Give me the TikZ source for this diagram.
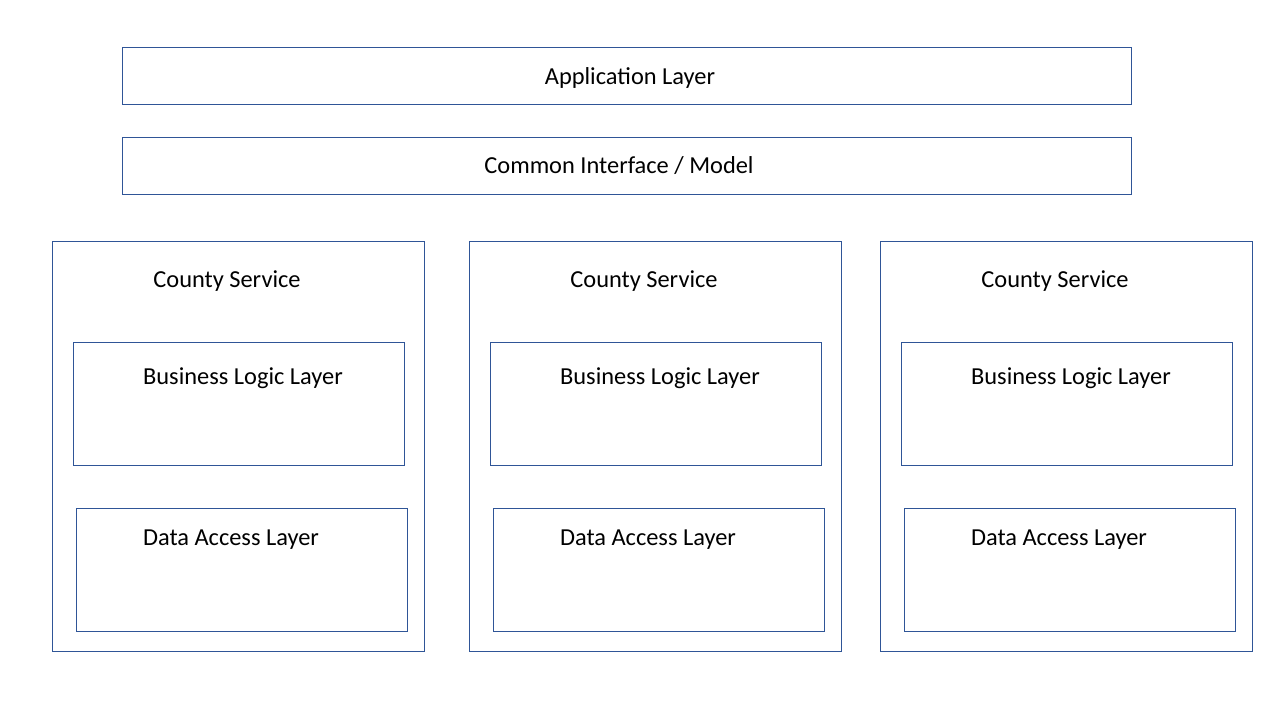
\documentclass[tikz,border=0pt]{standalone}
\usepackage{fontspec}
\setmainfont{Carlito}
\usepackage{tikz}
\definecolor{boxblue}{HTML}{2F5597}
\tikzset{
	layerbox/.style={draw=boxblue, line width=1pt, rectangle, inner sep=0pt, outer sep=0pt},
	layertext/.style={text=black, inner sep=0pt}
}

\begin{document}
\begin{tikzpicture}[x=1pt,y=-1pt,font=\fontsize{24.4}{28}\selectfont]
	\useasboundingbox (0,0) rectangle (1280,720);
	%\draw [help lines] (0,0) grid (1280,720);
	\node [layerbox, minimum width=1009, minimum height=57] (app) at (626.5,75.5) {};
	\node [layertext] (applabel) at (630,78) {Application Layer};
	\node [layerbox, minimum width=1009, minimum height=57] (common) at (626.5,165.5) {};
	\node [layertext] (commonlabel) at (619,166) {Common Interface / Model};
	\foreach \dx/\n in {0/a,417/b,828/c} {
		\node [layerbox, minimum width=372, minimum height=410] (county\n) at (238+\dx,446) {};
		\node [layertext] (countylabel\n) at (227+\dx,281) {County Service};
		\node [layerbox, minimum width=331, minimum height=123] (logic\n) at (238.5+\dx,403.5) {};
		\node [layertext] (logiclabel\n) at (243+\dx,378) {Business Logic Layer};
		\node [layerbox, minimum width=331, minimum height=123] (data\n) at (241.5+\dx,569.5) {};
		\node [layertext] (datalabel\n) at (231+\dx,540) {Data Access Layer};
	}
\end{tikzpicture}
\end{document}
